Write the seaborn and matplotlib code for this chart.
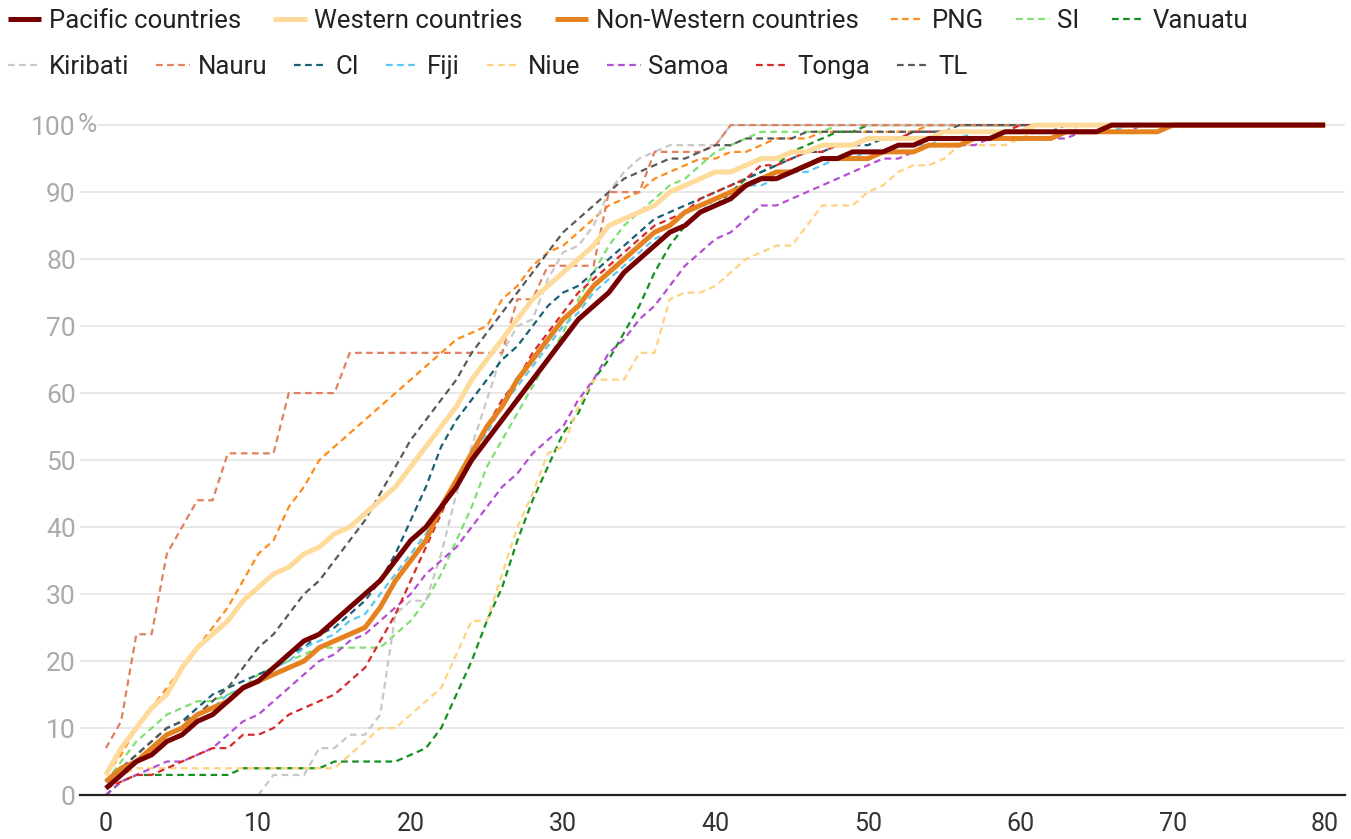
import pandas as pd
import matplotlib
matplotlib.use('Agg')
import matplotlib.pyplot as plt
import seaborn as sns
import numpy as np

sns.set_style("white")
plt.rcParams['font.family'] = ['Roboto', 'DejaVu Sans']

# Eje x: 0..80
x_vals = list(range(81))

pacific = [1, 3, 5, 6, 8, 9, 11, 12, 14, 16,
           17, 19, 21, 23, 24, 26, 28, 30, 32, 35,
           38, 40, 43, 46, 50, 53, 56, 59, 62, 65,
           68, 71, 73, 75, 78, 80, 82, 84, 85, 87,
           88, 89, 91, 92, 92, 93, 94, 95, 95, 96,
           96, 96, 97, 97, 98, 98, 98, 98, 98, 99,
           99, 99, 99, 99, 99, 99, 100, 100, 100, 100,
           100, 100, 100, 100, 100, 100, 100, 100, 100, 100, 100]
western = [3, 7, 10, 13, 15, 19, 22, 24, 26, 29,
           31, 33, 34, 36, 37, 39, 40, 42, 44, 46,
           49, 52, 55, 58, 62, 65, 68, 71, 74, 76,
           78, 80, 82, 85, 86, 87, 88, 90, 91, 92,
           93, 93, 94, 95, 95, 96, 96, 97, 97, 97,
           98, 98, 98, 98, 98, 99, 99, 99, 99, 99,
           99, 100, 100, 100, 100, 100, 100, 100, 100, 100,
           100, 100, 100, 100, 100, 100, 100, 100, 100, 100, 100]
non_western = [2, 4, 5, 7, 9, 10, 12, 13, 14, 16,
               17, 18, 19, 20, 22, 23, 24, 25, 28, 32,
               35, 38, 43, 47, 51, 55, 58, 62, 65, 68,
               71, 73, 76, 78, 80, 82, 84, 85, 87, 88,
               89, 90, 91, 92, 93, 93, 94, 95, 95, 95,
               95, 96, 96, 96, 97, 97, 97, 98, 98, 98,
               98, 98, 98, 99, 99, 99, 99, 99, 99, 99,
               100, 100, 100, 100, 100, 100, 100, 100, 100, 100, 100]
png = [3, 6, 10, 13, 16, 19, 22, 25, 28, 32,
       36, 38, 43, 46, 50, 52, 54, 56, 58, 60,
       62, 64, 66, 68, 69, 70, 74, 76, 79, 81,
       82, 84, 86, 88, 89, 90, 92, 93, 94, 95,
       95, 96, 96, 97, 98, 98, 98, 99, 99, 99,
       99, 99, 99, 99, 100, 100, 100, 100, 100, 100,
       100, 100, 100, 100, 100, 100, 100, 100, 100, 100,
       100, 100, 100, 100, 100, 100, 100, 100, 100, 100, 100]
si = [2, 5, 8, 10, 12, 13, 14, 14, 15, 16,
      18, 19, 20, 21, 22, 22, 22, 22, 22, 24,
      26, 29, 33, 38, 43, 49, 53, 57, 61, 65,
      69, 74, 78, 82, 85, 87, 89, 91, 92, 94,
      96, 97, 98, 99, 99, 99, 99, 99, 100, 100,
      100, 100, 100, 100, 100, 100, 100, 100, 100, 100,
      100, 100, 100, 100, 100, 100, 100, 100, 100, 100,
      100, 100, 100, 100, 100, 100, 100, 100, 100, 100, 100]
vanuatu = [0, 2, 3, 3, 3, 3, 3, 3, 3, 4,
           4, 4, 4, 4, 4, 5, 5, 5, 5, 5,
           6, 7, 10, 15, 20, 26, 31, 38, 44, 49,
           54, 57, 62, 65, 69, 73, 78, 82, 85, 87,
           88, 90, 92, 93, 94, 96, 97, 98, 99, 99,
           100, 100, 100, 100, 100, 100, 100, 100, 100, 100,
           100, 100, 100, 100, 100, 100, 100, 100, 100, 100,
           100, 100, 100, 100, 100, 100, 100, 100, 100, 100, 100]
kiribati = [np.nan, np.nan, np.nan, np.nan, np.nan, np.nan, np.nan, np.nan, np.nan, np.nan,
            0, 3, 3, 3, 7, 7, 9, 9, 12, 27,
            29, 29, 36, 45, 52, 59, 66, 70, 71, 77,
            81, 82, 85, 90, 93, 95, 96, 97, 97, 97,
            97, 100, 100, 100, 100, 100, 100, 100, 100, 100,
            100, 100, 100, 100, 100, 100, 100, 100, 100, 100,
            100, 100, 100, 100, 100, 100, 100, 100, 100, 100,
            100, 100, 100, 100, 100, 100, 100, 100, 100, 100, 100]
nauru = [7, 11, 24, 24, 36, 40, 44, 44, 51, 51,
         51, 51, 60, 60, 60, 60, 66, 66, 66, 66,
         66, 66, 66, 66, 66, 66, 66, 74, 74, 79,
         79, 79, 79, 90, 90, 90, 96, 96, 96, 96,
         97, 100, 100, 100, 100, 100, 100, 100, 100, 100,
         100, 100, 100, 100, 100, 100, 100, 100, 100, 100,
         100, 100, 100, 100, 100, 100, 100, 100, 100, 100,
         100, 100, 100, 100, 100, 100, 100, 100, 100, 100, 100]
ci = [2, 4, 6, 8, 10, 11, 13, 15, 16, 17,
      18, 19, 21, 22, 24, 25, 27, 29, 32, 36,
      41, 46, 52, 56, 59, 62, 65, 67, 70, 73,
      75, 76, 78, 80, 82, 84, 86, 87, 88, 89,
      90, 91, 92, 93, 94, 95, 96, 96, 97, 97,
      97, 98, 98, 99, 99, 99, 99, 99, 99, 99,
      99, 99, 99, 100, 100, 100, 100, 100, 100, 100,
      100, 100, 100, 100, 100, 100, 100, 100, 100, 100, 100]
fiji = [2, 4, 5, 7, 9, 10, 12, 13, 15, 16,
        17, 19, 20, 22, 23, 24, 26, 27, 30, 33,
        36, 39, 43, 47, 51, 54, 58, 61, 64, 67,
        70, 72, 75, 77, 79, 81, 83, 84, 85, 87,
        89, 90, 91, 91, 92, 93, 93, 94, 95, 95,
        96, 96, 97, 97, 97, 98, 98, 99, 99, 99,
        99, 99, 99, 99, 99, 99, 99, 100, 100, 100,
        100, 100, 100, 100, 100, 100, 100, 100, 100, 100, 100]
niue = [2, 3, 4, 4, 4, 4, 4, 4, 4, 4,
        4, 4, 4, 4, 4, 4, 6, 8, 10, 10,
        12, 14, 16, 21, 26, 26, 33, 40, 45, 51,
        52, 58, 62, 62, 62, 66, 66, 74, 75, 75,
        76, 78, 80, 81, 82, 82, 85, 88, 88, 88,
        90, 91, 93, 94, 94, 95, 97, 97, 97, 97,
        98, 99, 99, 99, 100, 100, 100, 100, 100, 100,
        100, 100, 100, 100, 100, 100, 100, 100, 100, 100, 100]
samoa = [0, 2, 3, 4, 5, 5, 6, 7, 9, 11,
         12, 14, 16, 18, 20, 21, 23, 24, 26, 28,
         30, 33, 35, 37, 40, 43, 46, 48, 51, 53,
         55, 59, 62, 66, 68, 71, 73, 76, 79, 81,
         83, 84, 86, 88, 88, 89, 90, 91, 92, 93,
         94, 95, 95, 96, 97, 97, 97, 97, 98, 98,
         98, 98, 98, 98, 99, 99, 99, 99, 100, 100,
         100, 100, 100, 100, 100, 100, 100, 100, 100, 100, 100]
tonga = [1, 2, 3, 3, 4, 5, 6, 7, 7, 9,
         9, 10, 12, 13, 14, 15, 17, 19, 23, 27,
         32, 37, 42, 47, 51, 55, 59, 62, 66, 69,
         72, 75, 77, 79, 81, 83, 85, 86, 87, 89,
         90, 91, 92, 94, 94, 95, 96, 96, 97, 97,
         98, 98, 98, 99, 99, 99, 99, 99, 99, 99,
         100, 100, 100, 100, 100, 100, 100, 100, 100, 100,
         100, 100, 100, 100, 100, 100, 100, 100, 100, 100, 100]
tl = [2, 4, 6, 8, 10, 11, 12, 14, 16, 19,
      22, 24, 27, 30, 32, 35, 38, 41, 45, 49,
      53, 56, 59, 62, 66, 69, 72, 75, 78, 81,
      84, 86, 88, 90, 92, 93, 94, 95, 95, 96,
      97, 97, 98, 98, 98, 98, 99, 99, 99, 99,
      99, 99, 99, 99, 99, 99, 100, 100, 100, 100,
      100, 100, 100, 100, 100, 100, 100, 100, 100, 100,
      100, 100, 100, 100, 100, 100, 100, 100, 100, 100, 100]

legend_order = ['Pacific countries', 'Western countries', 'Non-Western countries',
                'PNG', 'SI', 'Vanuatu',
                'Kiribati', 'Nauru', 'CI', 'Fiji', 'Niue', 'Samoa', 'Tonga', 'TL']

# (nombre, datos, color, punteada)
series = [
    ('PNG', png, '#ff8c1a', True),
    ('SI', si, '#7fe070', True),
    ('Vanuatu', vanuatu, '#14901e', True),
    ('Kiribati', kiribati, '#c8c8c8', True),
    ('Nauru', nauru, '#e0805f', True),
    ('CI', ci, '#1b5f78', True),
    ('Fiji', fiji, '#5cc8f0', True),
    ('Niue', niue, '#ffd27e', True),
    ('Samoa', samoa, '#b44fd4', True),
    ('Tonga', tonga, '#d82a2a', True),
    ('TL', tl, '#5a5a5a', True),
    ('Western countries', western, '#fedb9a', False),
    ('Non-Western countries', non_western, '#e5821f', False),
    ('Pacific countries', pacific, '#760000', False),
]

fig = plt.figure(figsize=(13.51, 8.39), dpi=100)
ax = fig.add_axes([0.0592, 0.0524, 0.9363, 0.8145])

handles = {}
for i, (name, vals, color, dashed) in enumerate(series):
    d = pd.DataFrame({'x': x_vals, 'y': vals}).dropna()
    sns.lineplot(data=d, x='x', y='y', ax=ax, color=color,
                 linewidth=1.6 if dashed else 3.6, zorder=2 + i * 0.01 if dashed else 3 + i * 0.01)
    line = ax.get_lines()[-1]
    if dashed:
        line.set_dashes((3, 2))
    line.set_solid_capstyle('butt')
    handles[name] = line

ax.set_xlim(-1.7, 81.3)
ax.set_ylim(0, 102)
ax.set_xticks(range(0, 81, 10))
ax.set_yticks(range(0, 101, 10))
ax.set_yticklabels([str(v) for v in range(0, 101, 10)])
ax.set_xlabel('')
ax.set_ylabel('')
ax.tick_params(axis='y', length=0, pad=3, labelsize=19, labelcolor='#aaaaaa')
ax.tick_params(axis='x', length=0, pad=12, labelsize=18, labelcolor='#333333')
ax.annotate('%', xy=(0, 100), xycoords=('axes fraction', 'data'), xytext=(-2, 0),
            textcoords='offset points', ha='left', va='center', fontsize=19, color='#aaaaaa',
            bbox=dict(facecolor='white', edgecolor='none', pad=0.5), zorder=5)

ax.grid(axis='y', color='#e6e6e6', linewidth=1.3)
ax.set_axisbelow(True)
for s in ['left', 'right', 'top']:
    ax.spines[s].set_visible(False)
ax.spines['bottom'].set_color('#222222')
ax.spines['bottom'].set_linewidth(1.6)

row1 = legend_order[:6]
row2 = legend_order[6:]
leg_kw = dict(frameon=False, fontsize=18.5, handlelength=1.3, handletextpad=0.3,
              borderaxespad=0, borderpad=0.3, loc='upper left')
leg1 = fig.legend([handles[n] for n in row1], row1, ncol=len(row1), columnspacing=1.25,
                  bbox_to_anchor=(0.0, 0.998), **leg_kw)
leg2 = fig.legend([handles[n] for n in row2], row2, ncol=len(row2), columnspacing=1.05,
                  bbox_to_anchor=(0.0, 0.944), **leg_kw)
for leg in (leg1, leg2):
    for t in leg.get_texts():
        t.set_color('#222222')

plt.savefig('out.png', dpi=100)
